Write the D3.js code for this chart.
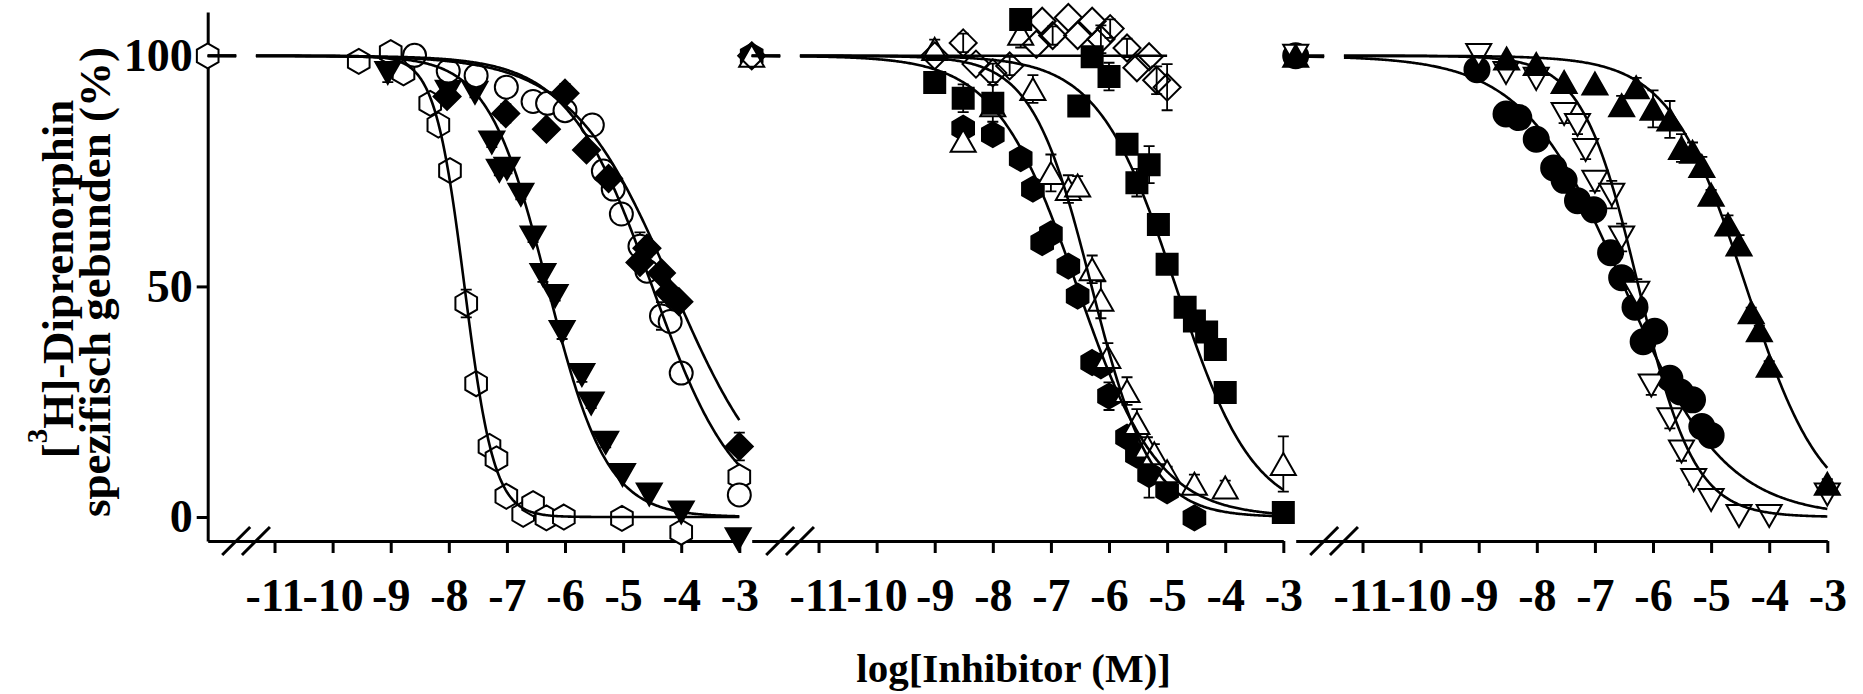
<!DOCTYPE html>
<html>
<head>
<meta charset="utf-8">
<script src="https://cdn.jsdelivr.net/npm/d3@7"></script>
<style>
  body { margin: 0; background: #fff; }
  text { font-family: "Liberation Serif", "Times New Roman", serif; font-weight: bold; }
</style>
</head>
<body>
<svg id="chart"></svg>
<script>
const width = 1863, height = 694;

// axes
const xTicks = [-11, -10, -9, -8, -7, -6, -5, -4, -3];
const yTicks = [0, 50, 100];
const xDomain = [-12.15, -3];
const yDomain = [-5.2, 109.5];
const controlLog = -12.15;               // "no inhibitor" control, drawn on the axis start
const breakLeft = -11.66, breakRight = -11.32;  // axis break

// panel 1: [log conc, % bound, error]
const p1Hexagon = [[-9.55,98.8,2],[-9.0,100.7,2],[-8.78,96.3,2],[-8.32,89.7,2],[-8.18,85.0,2],[-7.98,75.1,2],
  [-7.70,46.3,3],[-7.53,28.9,2],[-7.30,15.3,1],[-7.18,12.6,1],[-7.01,4.5,1],[-6.72,0.6,0],[-6.55,2.9,0],
  [-6.32,-0.2,1],[-6.02,0.0,1],[-5.02,-0.3,0],[-4.0,-3.3,0],[-3.0,8.7,0]];
const p1TriDown = [[-9.05,96.3,2],[-8.01,92.2,1],[-7.55,92.0,1],[-7.26,81.2,1],[-7.13,75.1,1],[-7.0,75.5,1],
  [-6.76,69.9,1],[-6.55,60.6,1],[-6.38,52.5,1.5],[-6.17,47.9,1],[-6.05,40.1,1.5],[-5.71,30.8,1.5],
  [-5.55,24.6,1],[-5.30,16.1,1],[-5.01,9.1,0],[-4.55,4.9,0],[-4.0,1.0,0],[-3.02,-4.8,0]];
const p1Circle = [[-8.59,100.1,2],[-8.01,96.7,1],[-7.53,95.7,1],[-7.01,93.2,1],[-6.55,90.1,2],[-6.30,89.7,1],
  [-6.0,88.1,1],[-5.53,85.0,1],[-5.34,75.0,1],[-5.17,71.1,1],[-5.03,65.7,1],[-4.71,58.7,3],[-4.59,53.3,2],
  [-4.34,43.6,3],[-4.19,42.4,1],[-4.0,31.2,2],[-3.0,4.8,1]];
const p1Diamond = [[-8.03,91.2,1],[-7.02,87.5,2],[-6.32,84.1,1],[-6.0,91.9,2],[-5.63,79.6,1],[-5.25,73.4,1],
  [-4.71,55.2,1],[-4.59,58.3,2],[-4.34,52.9,1],[-4.21,48.6,1],[-4.04,46.7,1],[-3.0,15.3,3]];

// panel 2
const p2Hexagon = [[-8.51,84.3,2],[-8.0,82.9,1],[-7.52,77.7,1.5],[-7.31,71.1,1],[-7.15,59.5,0],[-7.0,61.4,1],
  [-6.70,54.4,1.5],[-6.54,47.9,2],[-6.29,33.5,2],[-6.14,32.8,1],[-6.0,26.2,3],[-5.69,17.3,2],[-5.52,13.4,2],
  [-5.31,9.2,5],[-5.0,5.7,1],[-4.53,-0.2,0]];
const p2TriUp = [[-9.0,101.5,2],[-8.51,81.6,1],[-8.0,89.3,2],[-7.52,104.8,3],[-7.31,92.8,3],[-7.0,74.6,4],
  [-6.70,71.1,3],[-6.54,71.9,2],[-6.29,53.7,3],[-6.14,47.1,4],[-6.02,34.7,3],[-5.69,27.3,3],[-5.52,20.4,3],
  [-5.34,15.3,2],[-5.22,13.8,2],[-5.0,9.9,1],[-4.53,7.2,2],[-4.0,6.4,1.5],[-3.0,11.5,6]];
const p2Square = [[-9.0,94.2,0],[-8.51,90.8,3],[-8.0,89.7,4],[-7.52,107.9,0],[-6.52,89.1,2],[-6.29,99.8,2],
  [-6.0,95.5,3],[-5.69,80.8,2],[-5.52,72.5,3],[-5.31,76.4,4],[-5.15,63.4,2],[-5.0,54.8,1],[-4.69,45.5,2],
  [-4.53,42.5,2],[-4.32,40.1,1],[-4.17,36.3,1],[-4.0,27.0,1],[-3.0,1.0,0]];
const p2Diamond = [[-9.0,100.0,0],[-8.51,102.8,2],[-8.29,98.2,0],[-8.0,96.3,2],[-7.71,97.8,2],[-7.25,102.5,0],
  [-7.15,107.5,0],[-6.97,104.4,2],[-6.70,108.3,0],[-6.54,104.4,0],[-6.29,107.5,0],[-6.14,103.6,3],
  [-5.98,105.9,2],[-5.69,101.7,2],[-5.52,97.4,0],[-5.31,99.8,0],[-5.18,94.7,3],[-5.0,93.2,5]];

// panel 3
const p3Circle = [[-9.03,97.0,1],[-8.53,87.4,0],[-8.31,86.6,0],[-8.01,81.9,0],[-7.71,75.7,0],[-7.53,73.0,0],
  [-7.30,68.6,0],[-7.02,66.6,0],[-6.73,57.3,0],[-6.54,51.9,0],[-6.31,45.5,0],[-6.17,38.0,0],[-5.97,40.3,0],
  [-5.71,30.1,0],[-5.53,27.1,0],[-5.32,25.4,0],[-5.16,19.6,0],[-5.0,17.7,0]];
const p3TriDown = [[-9.0,100.2,0],[-8.53,96.3,0],[-8.01,95.0,0],[-7.53,87.4,2],[-7.30,85.0,2],[-7.16,79.6,2],
  [-7.0,72.7,2],[-6.71,69.9,3],[-6.54,60.6,3],[-6.28,48.6,3],[-6.03,28.5,2],[-5.71,21.2,2],[-5.51,14.2,2],
  [-5.30,8.0,1],[-5.0,3.7,0],[-4.52,0.2,0],[-4.0,0.2,0],[-3.0,4.9,0]];
const p3TriUp = [[-8.52,99.4,0],[-8.01,98.2,0],[-7.53,94.3,0],[-7.0,94.0,0],[-6.54,89.3,2],[-6.29,93.2,2],
  [-6.0,88.5,4],[-5.71,86.2,4],[-5.51,80.0,3],[-5.32,79.2,2],[-5.16,76.1,2],[-5.0,69.9,1],[-4.71,63.4,2],
  [-4.52,59.1,2],[-4.31,44.4,1],[-4.17,40.5,1],[-4.0,32.8,1],[-3.0,7.2,1]];

// fitted curves (one-site competition)
const fitLogIC50 = [[-7.73, -6.3, -4.5, -4.15], [-6.55, -6.3, -4.85, null], [-6.5, -6.25, -4.4]];
const fitHill    = [[1.7, 0.85, 0.6, 0.5],      [0.62, 0.85, 0.65, null],  [0.5, 0.9, 0.66]];
const flatLineEnd = -5.0;   // panel 2, open diamonds: no displacement

const panels = [
  [{ data: p1Hexagon, shape: 'hexagon', filled: false, control: true },
   { data: p1TriDown, shape: 'triDown', filled: true },
   { data: p1Circle, shape: 'circle', filled: false },
   { data: p1Diamond, shape: 'diamond', filled: true }],
  [{ data: p2Hexagon, shape: 'hexagon', filled: true, control: true },
   { data: p2TriUp, shape: 'triUp', filled: false, control: true },
   { data: p2Square, shape: 'square', filled: true },
   { data: p2Diamond, shape: 'diamond', filled: false, hollow: true, control: true }],
  [{ data: p3Circle, shape: 'circle', filled: true, control: true },
   { data: p3TriDown, shape: 'triDown', filled: false, control: true },
   { data: p3TriUp, shape: 'triUp', filled: true, control: true }]
];

const panelLeft = [207.7, 751.7, 1295.7];
const decade = 58.1;
const tickFont = 46;

const svg = d3.select('#chart').attr('width', width).attr('height', height);
const y = d3.scaleLinear().domain(yDomain).range([541, 12]);

function shapePath(shape, filled) {
  const p = d3.path();
  if (shape === 'circle') {
    const r = filled ? 12.5 : 11.5;
    p.arc(0, 0, r, 0, 2 * Math.PI); p.closePath(); return p.toString();
  }
  let pts;
  if (shape === 'hexagon') pts = d3.range(6).map(k => [12.5 * Math.cos((k * 60 - 90) * Math.PI / 180), 12.5 * Math.sin((k * 60 - 90) * Math.PI / 180)]);
  if (shape === 'triUp') pts = [[0, -11], [12.5, 11], [-12.5, 11]];
  if (shape === 'triDown') pts = [[0, 11], [12.5, -11], [-12.5, -11]];
  if (shape === 'square') pts = [[-10.5, -10.5], [10.5, -10.5], [10.5, 10.5], [-10.5, 10.5]];
  if (shape === 'diamond') pts = [[0, -13.5], [13.5, 0], [0, 13.5], [-13.5, 0]];
  p.moveTo(pts[0][0], pts[0][1]);
  pts.slice(1).forEach(q => p.lineTo(q[0], q[1]));
  p.closePath();
  return p.toString();
}

const hill = (lx, ic, n) => 100 / (1 + Math.pow(10, (lx - ic) * n));

panels.forEach((list, i) => {
  const x = d3.scaleLinear().domain(xDomain).range([panelLeft[i], panelLeft[i] + (xDomain[1] - xDomain[0]) * decade]);
  const g = svg.append('g');
  const y0 = y(yDomain[0]);

  // x axis
  const ax = g.append('g').attr('transform', `translate(0,${y0})`)
    .call(d3.axisBottom(x).tickValues(xTicks).tickSize(12).tickSizeOuter(0).tickPadding(25).tickFormat(d => String(d)));
  ax.attr('font-family', null).attr('font-size', tickFont);
  ax.select('.domain').attr('stroke-width', 3);
  ax.selectAll('.tick line').attr('stroke-width', 3);

  // axis break slashes
  [breakLeft, breakRight].forEach(b => {
    g.append('line')
      .attr('x1', x(b) - 14).attr('y1', y0 + 14).attr('x2', x(b) + 14).attr('y2', y0 - 14)
      .attr('stroke', '#000').attr('stroke-width', 3);
  });

  // y axis only on the first panel
  if (i === 0) {
    const ay = g.append('g').attr('transform', `translate(${x(xDomain[0])},0)`)
      .call(d3.axisLeft(y).tickValues(yTicks).tickSize(11).tickSizeOuter(0).tickPadding(4));
    ay.attr('font-family', null).attr('font-size', tickFont);
    ay.select('.domain').attr('stroke-width', 3);
    ay.selectAll('.tick line').attr('stroke-width', 3);
  }

  const bars = g.append('g');
  const marks = g.append('g');
  const lines = g.append('g');

  list.forEach((s, j) => {
    const pts = s.data.slice();
    if (s.control) pts.unshift([controlLog, 100, 0]);
    const fill = s.filled ? '#000' : (s.hollow ? 'none' : '#fff');

    bars.selectAll(null).data(pts.filter(d => d[2] > 0)).enter().append('path')
      .attr('d', d => {
        const xx = x(d[0]), ya = y(d[1] - d[2]), yb = y(d[1] + d[2]);
        return `M${xx},${ya}V${yb}M${xx - 5.5},${yb}H${xx + 5.5}M${xx - 5.5},${ya}H${xx + 5.5}`;
      })
      .attr('fill', 'none').attr('stroke', '#000').attr('stroke-width', 1.8);

    marks.selectAll(null).data(pts).enter().append('path')
      .attr('d', shapePath(s.shape, s.filled))
      .attr('transform', d => `translate(${x(d[0])},${y(d[1])})`)
      .attr('fill', fill).attr('stroke', '#000').attr('stroke-width', 2);

    const ic = fitLogIC50[i][j], n = fitHill[i][j];
    const f = ic === null ? () => 100 : lx => hill(lx, ic, n);
    const end = ic === null ? flatLineEnd : xDomain[1];
    const line = d3.line().x(d => x(d)).y(d => y(f(d)));
    lines.append('path').attr('d', line([controlLog, breakLeft]))
      .attr('fill', 'none').attr('stroke', '#000').attr('stroke-width', 2.6);
    const xs = d3.range(breakRight, end, 0.02).concat([end]);
    lines.append('path').attr('d', line(xs))
      .attr('fill', 'none').attr('stroke', '#000').attr('stroke-width', 2.6);
  });
});

// axis titles
const yTitle1 = svg.append('text').attr('transform', 'translate(73,279) rotate(-90)')
  .attr('text-anchor', 'middle').attr('font-size', 45);
yTitle1.append('tspan').text('[');
yTitle1.append('tspan').attr('font-size', 29).attr('dy', -26).text('3');
yTitle1.append('tspan').attr('dy', 26).text('H]-Diprenorphin');

svg.append('text').attr('transform', 'translate(110,282) rotate(-90)')
  .attr('text-anchor', 'middle').attr('font-size', 45)
  .text('spezifisch gebunden (%)');

svg.append('text').attr('x', 1013.6).attr('y', 682)
  .attr('text-anchor', 'middle').attr('font-size', 41)
  .text('log[Inhibitor (M)]');
</script>
</body>
</html>
